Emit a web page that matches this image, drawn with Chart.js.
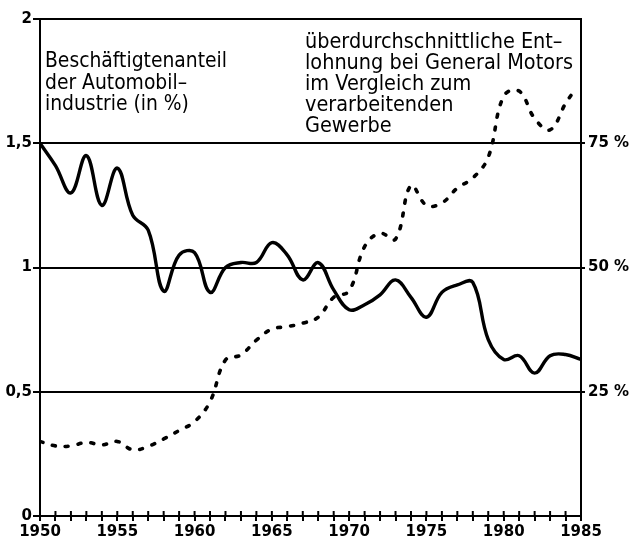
<!DOCTYPE html>
<html>
<head>
<meta charset="utf-8">
<script src="https://cdn.jsdelivr.net/npm/chart.js@4"></script>
<style>
  html, body { margin:0; padding:0; background:#fff; }
  #wrap { width:633px; height:541px; position:relative; }
</style>
</head>
<body>
<div id="wrap"><canvas id="chart"></canvas></div>
<script>
// years on the x axis (Beschäftigtenanteil, annual)
const years = [1950,1951,1952,1953,1954,1955,1956,1957,1958,1959,
               1960,1961,1962,1963,1964,1965,1966,1967,1968,1969,
               1970,1971,1972,1973,1974,1975,1976,1977,1978,1979,
               1980,1981,1982,1983,1984,1985];
// Beschäftigtenanteil der Automobilindustrie (in %), left axis
const employmentShare = [1.50,1.41,1.30,1.45,1.25,1.40,1.21,1.15,0.905,1.05,
                         1.06,0.90,1.00,1.02,1.02,1.10,1.05,0.95,1.02,0.91,
                         0.83,0.85,0.89,0.95,0.88,0.80,0.90,0.93,0.94,0.71,
                         0.63,0.645,0.575,0.645,0.65,0.63];
// überdurchschnittliche Entlohnung bei GM (in %), right axis
const wageYears = [1950,1951,1952,1953,1954,1955,1956,1957,1958,1959,
                   1960,1961,1962,1963,1964,1965,1966,1967,1968,1969,
                   1970,1971,1972,1973,1974,1975,1976,1977,1978,1979,
                   1980,1981,1982,1983,1984,1984.5];
const wagePremium = [15,14.1,14.1,14.8,14.3,15,13.3,14,15.5,17.2,
                     19,23,31.4,32.4,35.4,37.6,38.1,38.8,40,44,
                     45.3,54.2,56.9,55.7,66.5,62.5,63,66,68,72.2,
                     84.5,85.5,80,77.7,83,85.3];
const leftTicks = [0, 0.5, 1, 1.5, 2];
const rightTickLabels = ['25 %', '50 %', '75 %'];

const leftText = ['Beschäftigtenanteil', 'der Automobil–', 'industrie (in %)'];
const rightText = ['überdurchschnittliche Ent–', 'lohnung bei General Motors', 'im Vergleich zum', 'verarbeitenden', 'Gewerbe'];

Chart.defaults.font.family = 'DejaVu Sans';
Chart.defaults.color = '#000';

// small tick marks on the inside of the x axis, so they cross it
const crossTicks = {
  id: 'crossTicks',
  afterDraw(chart){
    const sx = chart.scales.x, ctx = chart.ctx;
    const y0 = chart.chartArea.bottom;
    ctx.save();
    ctx.strokeStyle = '#000'; ctx.lineWidth = 2;
    sx.ticks.forEach(t=>{
      const px = sx.getPixelForValue(t.value);
      ctx.beginPath(); ctx.moveTo(px, y0); ctx.lineTo(px, y0-5); ctx.stroke();
    });
    ctx.restore();
  }
};

// the two text blocks inside the plot, narrowed like the plotter lettering
function drawBlock(ctx, lines, x, y, lh, width){
  ctx.font = '22px "DejaVu Sans"';
  const widest = Math.max(...lines.map(l=>ctx.measureText(l).width));
  const s = width / widest;
  lines.forEach((l,i)=>{
    ctx.save();
    ctx.translate(x, y + i*lh);
    ctx.scale(s, 1);
    ctx.fillText(l, 0, 0);
    ctx.restore();
  });
}
const labels = {
  id: 'labels',
  afterDraw(chart){
    const ctx = chart.ctx;
    ctx.save();
    ctx.fillStyle = '#000';
    ctx.textBaseline = 'alphabetic';
    drawBlock(ctx, leftText, 45, 67, 21.5, 182);
    drawBlock(ctx, rightText, 305, 48, 21, 268);
    ctx.restore();
  }
};

new Chart(document.getElementById('chart'), {
  type: 'line',
  data: {
    datasets: [
      {
        label: 'Beschäftigtenanteil',
        data: employmentShare.map((v,i)=>({x: years[i], y: v})),
        yAxisID: 'y',
        borderColor: '#000',
        borderWidth: 3.4,
        pointRadius: 0,
        tension: 0.4,
        fill: false
      },
      {
        label: 'Entlohnung GM',
        data: wagePremium.map((v,i)=>({x: wageYears[i], y: v})),
        yAxisID: 'y1',
        borderColor: '#000',
        borderWidth: 3.6,
        borderDash: [3, 10],
        borderCapStyle: 'round',
        pointRadius: 0,
        tension: 0.4,
        fill: false
      }
    ]
  },
  options: {
    responsive: true,
    maintainAspectRatio: false,
    animation: false,
    events: [],
    layout: { padding: { top: 19, right: 0, bottom: 0, left: 0 } },
    plugins: { legend: { display: false }, tooltip: { enabled: false } },
    scales: {
      x: {
        type: 'linear', min: 1950, max: 1985,
        afterFit(s){ s.height = 25; },
        ticks: {
          stepSize: 1, autoSkip: false, maxRotation: 0, padding: 2,
          font: { size: 15, weight: 'bold' },
          callback: v => (v % 5 === 0 ? String(v) : '')
        },
        grid: { drawOnChartArea: false, color: '#000', lineWidth: 2, tickLength: 5 },
        border: { color: '#000', width: 2 }
      },
      y: {
        position: 'left', min: 0, max: 2,
        afterFit(s){ s.width = 40; },
        afterBuildTicks(s){ s.ticks = leftTicks.map(v=>({value: v})); },
        ticks: {
          padding: 1,
          font: { size: 15, weight: 'bold' },
          callback: v => String(v).replace('.', ',')
        },
        grid: { color: '#000', lineWidth: 2, tickLength: 7 },
        border: { color: '#000', width: 2 }
      },
      y1: {
        position: 'right', min: 0, max: 100,
        afterFit(s){ s.width = 52; },
        afterBuildTicks(s){ s.ticks = [25, 50, 75].map(v=>({value: v})); },
        ticks: {
          padding: 3,
          font: { size: 15, weight: 'bold' },
          callback: (v, i) => rightTickLabels[i]
        },
        grid: { drawOnChartArea: false, color: '#000', lineWidth: 2, tickLength: 4 },
        border: { color: '#000', width: 2 }
      }
    }
  },
  plugins: [crossTicks, labels]
});
</script>
</body>
</html>
